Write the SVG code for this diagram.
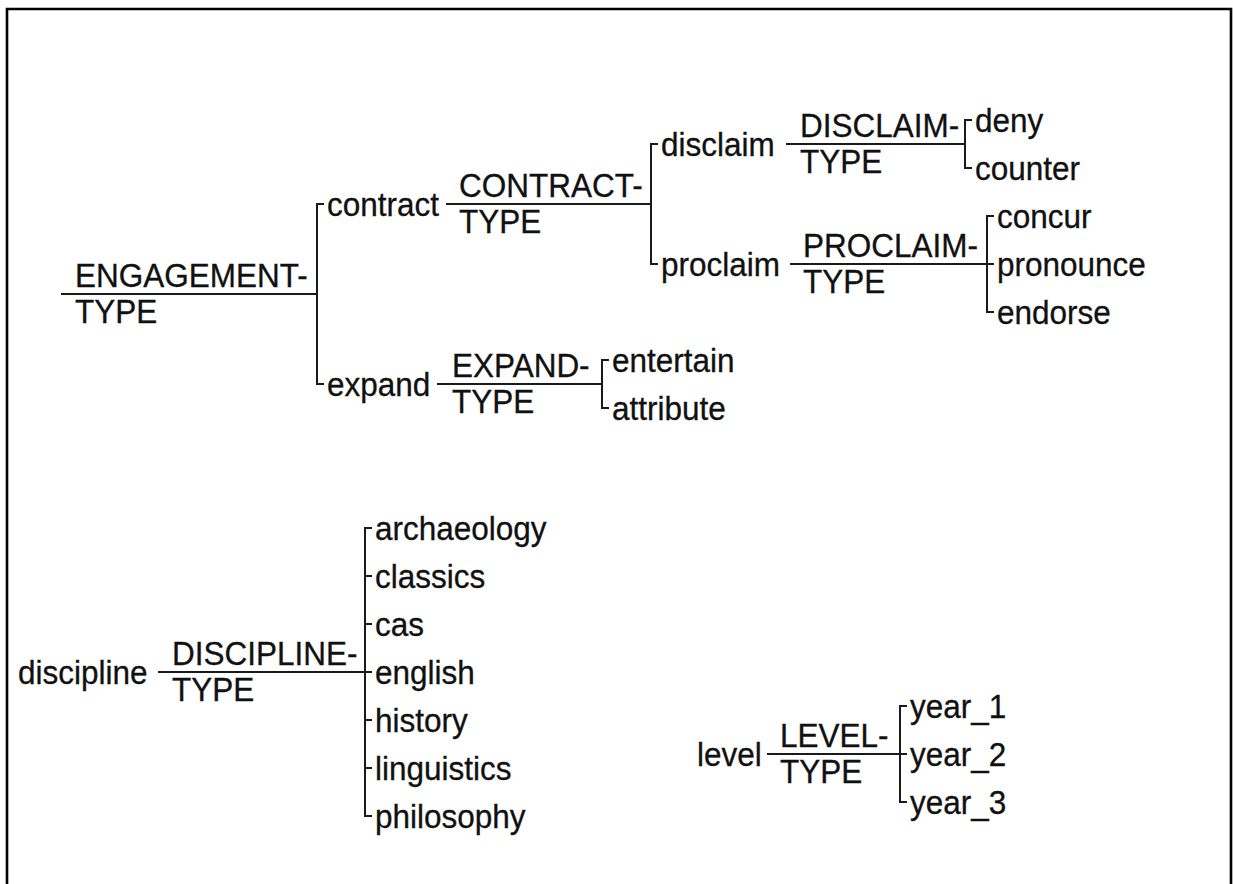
<svg xmlns="http://www.w3.org/2000/svg" width="1233" height="884" viewBox="0 0 1233 884">
  <style>
    text { font-family: "Liberation Sans", Arial, sans-serif; font-size: 31.5px; fill: #111; stroke: #111; stroke-width: 0.3; }
    .wire { stroke: #1a1a1a; stroke-width: 2; fill: none; }
    .frame { stroke: #000; stroke-width: 2.6; fill: none; }
  </style>
  <rect width="1233" height="884" fill="#fff"/>
  <path class="frame" d="M7,884 V9 H1231 V884"/>

  <!-- system lines and brackets -->
  <g id="connectors">
    <path class="wire" d="M61,294 H317 M324,204 H317 V384 H324"/>
    <path class="wire" d="M446,204 H651 M658,144 H651 V264 H658"/>
    <path class="wire" d="M786,144 H965 M972,120 H965 V168 H972"/>
    <path class="wire" d="M790,264 H994 M994,216 H987 V312 H994"/>
    <path class="wire" d="M437,384 H602 M609,360 H602 V408 H609"/>
    <path class="wire" d="M158,672 H372 M372,528 H365 V816 H372 M365,576 H372 M365,624 H372 M365,720 H372 M365,768 H372"/>
    <path class="wire" d="M767,754 H907 M907,706 H900 V802 H907"/>
  </g>

  <!-- systems: upper and lower halves of each name around its line -->
  <g id="engagement-type"><text transform="translate(75,287) scale(1,1.06)">ENGAGEMENT-</text><text transform="translate(75,323) scale(1,1.06)">TYPE</text></g>
  <g id="contract-type"><text transform="translate(459,197) scale(1,1.06)">CONTRACT-</text><text transform="translate(459,233) scale(1,1.06)">TYPE</text></g>
  <g id="disclaim-type"><text transform="translate(800,137) scale(1,1.06)">DISCLAIM-</text><text transform="translate(800,173) scale(1,1.06)">TYPE</text></g>
  <g id="proclaim-type"><text transform="translate(803,257) scale(1,1.06)">PROCLAIM-</text><text transform="translate(803,293) scale(1,1.06)">TYPE</text></g>
  <g id="expand-type"><text transform="translate(452,377) scale(1,1.06)">EXPAND-</text><text transform="translate(452,413) scale(1,1.06)">TYPE</text></g>
  <g id="discipline-type"><text transform="translate(172,665) scale(1,1.06)">DISCIPLINE-</text><text transform="translate(172,701) scale(1,1.06)">TYPE</text></g>
  <g id="level-type"><text transform="translate(780,747) scale(1,1.06)">LEVEL-</text><text transform="translate(780,783) scale(1,1.06)">TYPE</text></g>

  <!-- features -->
  <g id="contract"><text transform="translate(327,216) scale(1,1.06)">contract</text></g>
  <g id="expand"><text transform="translate(327,396) scale(1,1.06)">expand</text></g>
  <g id="disclaim"><text transform="translate(661,156) scale(1,1.06)">disclaim</text></g>
  <g id="proclaim"><text transform="translate(661,276) scale(1,1.06)">proclaim</text></g>
  <g id="deny"><text transform="translate(975,132) scale(1,1.06)">deny</text></g>
  <g id="counter"><text transform="translate(975,180) scale(1,1.06)">counter</text></g>
  <g id="concur"><text transform="translate(997,228) scale(1,1.06)">concur</text></g>
  <g id="pronounce"><text transform="translate(997,276) scale(1,1.06)">pronounce</text></g>
  <g id="endorse"><text transform="translate(997,324) scale(1,1.06)">endorse</text></g>
  <g id="entertain"><text transform="translate(612,372) scale(1,1.06)">entertain</text></g>
  <g id="attribute"><text transform="translate(612,420) scale(1,1.06)">attribute</text></g>

  <g id="discipline"><text transform="translate(18,684) scale(1,1.06)">discipline</text></g>
  <g id="archaeology"><text transform="translate(375,540) scale(1,1.06)">archaeology</text></g>
  <g id="classics"><text transform="translate(375,588) scale(1,1.06)">classics</text></g>
  <g id="cas"><text transform="translate(375,636) scale(1,1.06)">cas</text></g>
  <g id="english"><text transform="translate(375,684) scale(1,1.06)">english</text></g>
  <g id="history"><text transform="translate(375,732) scale(1,1.06)">history</text></g>
  <g id="linguistics"><text transform="translate(375,780) scale(1,1.06)">linguistics</text></g>
  <g id="philosophy"><text transform="translate(375,828) scale(1,1.06)">philosophy</text></g>

  <g id="level"><text transform="translate(697,766) scale(1,1.06)">level</text></g>
  <g id="year_1"><text transform="translate(910,718) scale(1,1.06)">year_1</text></g>
  <g id="year_2"><text transform="translate(910,766) scale(1,1.06)">year_2</text></g>
  <g id="year_3"><text transform="translate(910,814) scale(1,1.06)">year_3</text></g>
</svg>
